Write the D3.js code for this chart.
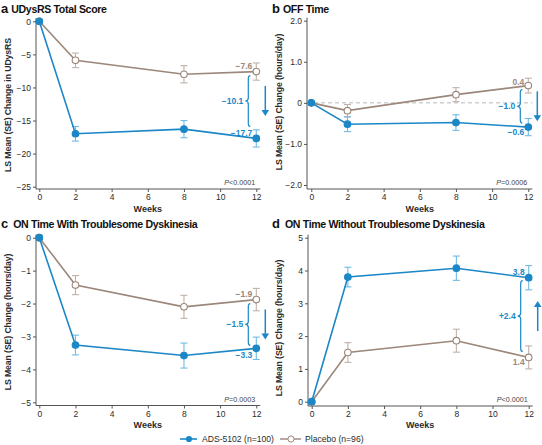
<!DOCTYPE html>
<html><head><meta charset="utf-8">
<script src="https://cdn.jsdelivr.net/npm/d3@7"></script>
<style>
html,body{margin:0;padding:0;background:#fff;}
svg{display:block;font-family:"Liberation Sans",Arial,Helvetica,sans-serif;}
</style></head>
<body>
<svg id="chart" width="542" height="445"></svg>
<script>
// ---------- data ----------
const weeks = [0, 2, 8, 12];
const xTicks = [0, 2, 4, 6, 8, 10, 12];

const udysrsADS = [0, -17.0, -16.3, -17.7];
const udysrsADSse = [0, 1.1, 1.3, 1.3];
const udysrsPbo = [0, -5.9, -8.0, -7.6];
const udysrsPboSe = [0, 1.1, 1.3, 1.3];

const offADS = [0, -0.52, -0.48, -0.59];
const offADSse = [0, 0.18, 0.19, 0.21];
const offPbo = [0, -0.19, 0.20, 0.42];
const offPboSe = [0, 0.15, 0.17, 0.18];

const onTdADS = [0, -3.26, -3.58, -3.36];
const onTdADSse = [0, 0.30, 0.38, 0.34];
const onTdPbo = [0, -1.44, -2.10, -1.88];
const onTdPboSe = [0, 0.29, 0.35, 0.34];

const onNoTdADS = [0, 3.80, 4.07, 3.78];
const onNoTdADSse = [0, 0.30, 0.37, 0.37];
const onNoTdPbo = [0, 1.50, 1.86, 1.35];
const onNoTdPboSe = [0, 0.30, 0.35, 0.35];

const panelLetters = ["a", "b", "c", "d"];
const panelTitles = ["UDysRS Total Score", "OFF Time", "ON Time With Troublesome Dyskinesia", "ON Time Without Troublesome Dyskinesia"];
const yLabels = ["LS Mean (SE) Change in UDysRS", "LS Mean (SE) Change (hours/day)", "LS Mean (SE) Change (hours/day)", "LS Mean (SE) Change (hours/day)"];
const yTicksA = [0, -5, -10, -15, -20, -25];
const yTicksB = [2, 1, 0, -1, -2];
const yTicksC = [0, -1, -2, -3, -4, -5];
const yTicksD = [0, 1, 2, 3, 4, 5];
const adsEndLabels = ["\u221217.7", "\u22120.6", "\u22123.3", "3.8"];
const pboEndLabels = ["\u22127.6", "0.4", "\u22121.9", "1.4"];
const diffLabels = ["\u221210.1", "\u22121.0", "\u22121.5", "+2.4"];
const pLabels = ["<0.0001", "=0.0006", "=0.0003", "<0.0001"];
const legendLabels = ["ADS-5102 (n=100)", "Placebo (n=96)"];

// ---------- styles / layout ----------
const BLUE = "#1b87c7", BLUE_ERR = "#6fbbe2";
const GRAY = "#9b877b", GRAY_ERR = "#bfb1a8";
const AXIS = "#555", TXT = "#2b2b2b";

const panels = [
  {ads: udysrsADS, adsSe: udysrsADSse, pbo: udysrsPbo, pboSe: udysrsPboSe, yDom: [-25, 0], yTicks: yTicksA,
   xr: [39.3, 256.3], yr: [186.7, 21.3], axX: 36, axY: 189, titleY: 13, ox: 0, fmt: d3.format("d"), dir: "down",
   adsDy: -5, pboDy: -6, gapTop: 4, gapBot: 12, zero: false, yLabCenter: 105, weeksY: 212},
  {ads: offADS, adsSe: offADSse, pbo: offPbo, pboSe: offPboSe, yDom: [-2, 2], yTicks: yTicksB,
   xr: [311.3, 528.3], yr: [185, 20.7], axX: 307, axY: 189, titleY: 13, ox: 271, fmt: d => d === 0 ? "0" : d3.format(".1f")(d), dir: "down",
   adsDy: 5, pboDy: -4, gapTop: 4, gapBot: 4, zero: true, yLabCenter: 102, weeksY: 212},
  {ads: onTdADS, adsSe: onTdADSse, pbo: onTdPbo, pboSe: onTdPboSe, yDom: [-5, 0], yTicks: yTicksC,
   xr: [39.3, 256.3], yr: [402.3, 237.7], axX: 36, axY: 405.5, titleY: 228, ox: 0, fmt: d3.format("d"), dir: "down",
   adsDy: 7, pboDy: -6, gapTop: 4, gapBot: 3, zero: false, yLabCenter: 322, weeksY: 428},
  {ads: onNoTdADS, adsSe: onNoTdADSse, pbo: onNoTdPbo, pboSe: onNoTdPboSe, yDom: [0, 5], yTicks: yTicksD,
   xr: [311.7, 528.7], yr: [401.7, 237.7], axX: 308, axY: 406, titleY: 228, ox: 271, fmt: d3.format("d"), dir: "up",
   adsDy: -6, pboDy: 5, gapTop: 3, gapBot: 6, zero: false, yLabCenter: 328, weeksY: 428}
];

const svg = d3.select("#chart");

panels.forEach((p, i) => {
  const g = svg.append("g");
  const x = d3.scaleLinear().domain([0, 12]).range(p.xr);
  const y = d3.scaleLinear().domain(p.yDom).range(p.yr);

  // title
  const t = g.append("text").attr("x", p.ox + 1).attr("y", p.titleY)
    .attr("font-weight", "bold").attr("fill", "#111");
  t.append("tspan").attr("font-size", 13).text(panelLetters[i]);
  t.append("tspan").attr("font-size", 10.6).attr("dx", i < 2 ? 3 : 5).attr("letter-spacing", -0.35).text(panelTitles[i]);

  // y label
  g.append("text").attr("transform", `translate(${p.ox + 11},${p.yLabCenter}) rotate(-90)`)
    .attr("text-anchor", "middle").attr("font-size", 8.8).attr("font-weight", "bold")
    .attr("fill", TXT).attr("letter-spacing", -0.15).text(yLabels[i]);

  // zero dashed line
  if (p.zero) {
    g.append("line").attr("x1", p.axX).attr("x2", p.xr[1] + 4)
      .attr("y1", y(0)).attr("y2", y(0))
      .attr("stroke", "#b8b8b8").attr("stroke-width", 1).attr("stroke-dasharray", "4,3");
  }

  // y axis
  const ya = g.append("g").attr("transform", `translate(${p.axX},0)`)
    .call(d3.axisLeft(y).tickValues(p.yTicks).tickFormat(p.fmt).tickSize(3).tickSizeOuter(0).tickPadding(2));
  ya.select(".domain").remove();
  ya.append("line").attr("x1", 0).attr("x2", 0).attr("y1", p.yr[1] - 3).attr("y2", p.axY).attr("stroke", AXIS);
  ya.selectAll(".tick line").attr("stroke", AXIS);
  ya.selectAll(".tick text").attr("font-size", 8.5).attr("fill", TXT).attr("font-family", "Liberation Sans, Arial, sans-serif");

  // x axis
  const xa = g.append("g").attr("transform", `translate(0,${p.axY})`)
    .call(d3.axisBottom(x).tickValues(xTicks).tickFormat(d3.format("d")).tickSize(3).tickSizeOuter(0).tickPadding(2));
  xa.select(".domain").remove();
  xa.append("line").attr("x1", p.axX).attr("x2", p.xr[1] + 4).attr("y1", 0).attr("y2", 0).attr("stroke", AXIS);
  xa.selectAll(".tick line").attr("stroke", AXIS);
  xa.selectAll(".tick text").attr("font-size", 8.5).attr("fill", TXT).attr("font-family", "Liberation Sans, Arial, sans-serif");

  g.append("text").attr("x", (p.xr[0] + p.xr[1]) / 2).attr("y", p.weeksY)
    .attr("text-anchor", "middle").attr("font-size", 9).attr("font-weight", "bold").attr("fill", TXT).text("Weeks");

  // p value
  const pt = g.append("text").attr("x", p.xr[1] - 1).attr("y", p.axY - 4)
    .attr("text-anchor", "end").attr("font-size", 7.2).attr("fill", "#444");
  pt.append("tspan").attr("font-style", "italic").text("P");
  pt.append("tspan").text(pLabels[i]);

  const line = d3.line().x((d, j) => x(weeks[j])).y(d => y(d));

  function series(vals, se, color, errColor, filled) {
    const eb = g.append("g").attr("stroke", errColor).attr("stroke-width", 1.1);
    vals.forEach((v, j) => {
      if (se[j] === 0) return;
      const cx = x(weeks[j]);
      eb.append("line").attr("x1", cx).attr("x2", cx).attr("y1", y(v - se[j])).attr("y2", y(v + se[j]));
      eb.append("line").attr("x1", cx - 3.5).attr("x2", cx + 3.5).attr("y1", y(v - se[j])).attr("y2", y(v - se[j]));
      eb.append("line").attr("x1", cx - 3.5).attr("x2", cx + 3.5).attr("y1", y(v + se[j])).attr("y2", y(v + se[j]));
    });
    g.append("path").datum(vals).attr("d", line).attr("fill", "none")
      .attr("stroke", color).attr("stroke-width", 1.6);
    g.selectAll(null).data(vals).enter().append("circle")
      .attr("cx", (d, j) => x(weeks[j])).attr("cy", d => y(d)).attr("r", 3.3)
      .attr("fill", filled ? color : "#fff").attr("stroke", color).attr("stroke-width", 1.1);
  }
  series(p.pbo, p.pboSe, GRAY, GRAY_ERR, false);
  series(p.ads, p.adsSe, BLUE, BLUE_ERR, true);

  // end labels
  const x12 = x(12);
  const yA = y(p.ads[3]), yP = y(p.pbo[3]);
  g.append("text").attr("x", x12 - 4).attr("y", yA + p.adsDy).attr("dy", "0.35em")
    .attr("text-anchor", "end").attr("font-size", 8.5).attr("font-weight", "bold").attr("fill", BLUE).text(adsEndLabels[i]);
  g.append("text").attr("x", x12 - 4).attr("y", yP + p.pboDy).attr("dy", "0.35em")
    .attr("text-anchor", "end").attr("font-size", 8.5).attr("font-weight", "bold").attr("fill", GRAY).text(pboEndLabels[i]);

  // brace
  const upper = Math.min(yA, yP), lower = Math.max(yA, yP);
  const top = upper + p.gapTop, bot = lower - p.gapBot;
  const mid = (top + bot) / 2, bx = x12 - 8;
  const br = `M${bx + 2},${top} Q${bx},${top} ${bx},${top + 3} L${bx},${mid - 3} Q${bx},${mid} ${bx - 3},${mid} Q${bx},${mid} ${bx},${mid + 3} L${bx},${bot - 3} Q${bx},${bot} ${bx + 2},${bot}`;
  g.append("path").attr("d", br).attr("fill", "none").attr("stroke", BLUE).attr("stroke-width", 1.2);
  g.append("text").attr("x", bx - 5).attr("y", mid).attr("dy", "0.35em")
    .attr("text-anchor", "end").attr("font-size", 8.5).attr("font-weight", "bold").attr("fill", BLUE).text(diffLabels[i]);

  // arrow
  const ax = x12 + 9, half = 15;
  const a0 = mid - half, a1 = mid + half;
  if (p.dir === "down") {
    g.append("line").attr("x1", ax).attr("x2", ax).attr("y1", a0).attr("y2", a1 - 5).attr("stroke", BLUE).attr("stroke-width", 1.5);
    g.append("path").attr("d", `M${ax - 3.8},${a1 - 6} L${ax + 3.8},${a1 - 6} L${ax},${a1} Z`).attr("fill", BLUE);
  } else {
    g.append("line").attr("x1", ax).attr("x2", ax).attr("y1", a1).attr("y2", a0 + 5).attr("stroke", BLUE).attr("stroke-width", 1.5);
    g.append("path").attr("d", `M${ax - 3.8},${a0 + 6} L${ax + 3.8},${a0 + 6} L${ax},${a0} Z`).attr("fill", BLUE);
  }
});

// legend
const lg = svg.append("g");
const ly = 439;
lg.append("line").attr("x1", 180).attr("x2", 197).attr("y1", ly).attr("y2", ly).attr("stroke", BLUE).attr("stroke-width", 1.6);
lg.append("circle").attr("cx", 189).attr("cy", ly).attr("r", 3.1).attr("fill", BLUE);
lg.append("text").attr("x", 202).attr("y", ly).attr("dy", "0.35em").attr("font-size", 8.6).attr("fill", TXT).text(legendLabels[0]);
lg.append("line").attr("x1", 280).attr("x2", 301).attr("y1", ly).attr("y2", ly).attr("stroke", GRAY).attr("stroke-width", 1.4);
lg.append("circle").attr("cx", 291).attr("cy", ly).attr("r", 3.1).attr("fill", "#fff").attr("stroke", GRAY).attr("stroke-width", 1);
lg.append("text").attr("x", 305).attr("y", ly).attr("dy", "0.35em").attr("font-size", 8.6).attr("fill", TXT).text(legendLabels[1]);
</script>
</body></html>
